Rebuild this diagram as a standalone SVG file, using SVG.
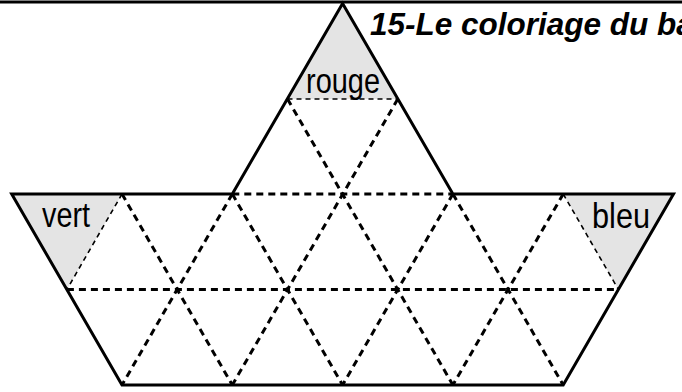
<svg xmlns="http://www.w3.org/2000/svg" width="682" height="392" viewBox="0 0 682 392">
<style>
.solid{fill:none;stroke:#000;stroke-width:3;stroke-linejoin:miter}
.dash{fill:none;stroke:#000;stroke-width:3;stroke-dasharray:7 5}
.thin{fill:none;stroke:#000;stroke-width:1.6;stroke-dasharray:5 4}
.shade{fill:#e4e4e4;stroke:none}
.lbl{font-family:"Liberation Sans",Arial,sans-serif;font-size:35px;fill:#000}
.title{font-family:"Liberation Sans",Arial,sans-serif;font-size:31.5px;font-weight:bold;font-style:italic;fill:#000}
</style>
<rect width="682" height="392" fill="#fff"/>
<g id="rouge">
<polygon class="shade" points="342.6,3.5 287.5,99 397.8,99"/>
<text class="lbl" x="306" y="93" textLength="74" lengthAdjust="spacingAndGlyphs">rouge</text>
</g>
<g id="vert">
<polygon class="shade" points="11.7,194 122,194 66.9,289.5"/>
<text class="lbl" x="42" y="227" textLength="48" lengthAdjust="spacingAndGlyphs">vert</text>
</g>
<g id="bleu">
<polygon class="shade" points="563.2,194 673.5,194 618.4,289.5"/>
<text class="lbl" x="592" y="228" textLength="58" lengthAdjust="spacingAndGlyphs">bleu</text>
</g>
<g id="connectors">
<line class="thin" x1="287.5" y1="99" x2="397.8" y2="99"/>
<line class="thin" x1="122" y1="194" x2="66.9" y2="289.5"/>
<line class="thin" x1="563.2" y1="194" x2="618.4" y2="289.5"/>
<line class="dash" x1="232.3" y1="194" x2="452.9" y2="194"/>
<line class="dash" x1="66.9" y1="289.5" x2="618.4" y2="289.5"/>
<line class="dash" x1="122" y1="194" x2="232.3" y2="385"/>
<line class="dash" x1="232.3" y1="194" x2="342.6" y2="385"/>
<line class="dash" x1="287.5" y1="99" x2="452.9" y2="385"/>
<line class="dash" x1="452.9" y1="194" x2="563.2" y2="385"/>
<line class="dash" x1="232.3" y1="194" x2="122" y2="385"/>
<line class="dash" x1="397.8" y1="99" x2="232.3" y2="385"/>
<line class="dash" x1="452.9" y1="194" x2="342.6" y2="385"/>
<line class="dash" x1="563.2" y1="194" x2="452.9" y2="385"/>
</g>
<g id="outline">
<path class="solid" d="M232.3,194 L11.7,194 L122,385 L563.2,385 L673.5,194 L452.9,194 L342.6,3.5 Z"/>
<line x1="0" y1="2" x2="682" y2="2" stroke="#000" stroke-width="3"/>
</g>
<g id="title">
<text class="title" x="370" y="35">15-Le coloriage du ba</text>
</g>
</svg>
